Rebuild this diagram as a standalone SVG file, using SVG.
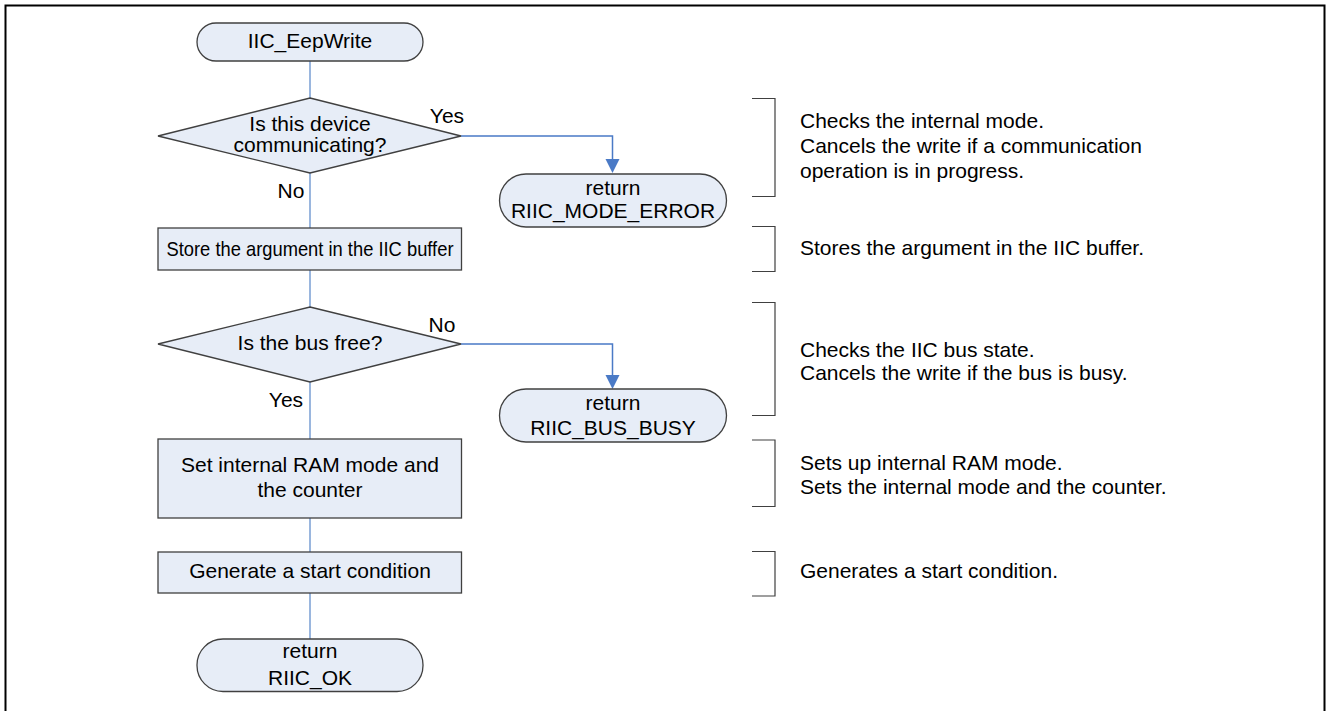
<svg xmlns="http://www.w3.org/2000/svg" width="1326" height="711" viewBox="0 0 1326 711">
<defs>
<marker id="arr" markerWidth="14" markerHeight="14" refX="7" refY="14" orient="auto-start-reverse" markerUnits="userSpaceOnUse" viewBox="0 0 14 14">
<path d="M0,0 L14,0 L7,14 Z" fill="#4A7AC6"/>
</marker>
<style>
.n{fill:#E7EDF7;stroke:#404040;stroke-width:1.3}
.t{font-family:"Liberation Sans",Arial,sans-serif;font-size:21px;fill:#000}
.c{text-anchor:middle}
.flow{stroke:#9AB6DE;stroke-width:2;fill:none}
.br{stroke:#404040;stroke-width:1.2;fill:none}
.ar{stroke:#4A7AC6;stroke-width:1.5;fill:none}
</style>
</defs>
<rect x="5.5" y="5.5" width="1319" height="720" fill="#fff" stroke="#000" stroke-width="2"/>
<g id="connectors">
<line class="flow" x1="310" y1="61" x2="310" y2="98"/>
<line class="flow" x1="310" y1="173" x2="310" y2="228"/>
<line class="flow" x1="310" y1="270" x2="310" y2="307"/>
<line class="flow" x1="310" y1="382" x2="310" y2="439"/>
<line class="flow" x1="310" y1="518" x2="310" y2="552"/>
<line class="flow" x1="310" y1="593" x2="310" y2="639"/>
<path class="ar" d="M461,136 H612.5 V159" />
<path d="M605.5,159 L619.5,159 L612.5,173 Z" fill="#4A7AC6"/>
<path class="ar" d="M461,344 H612.5 V375" />
<path d="M605.5,375 L619.5,375 L612.5,389 Z" fill="#4A7AC6"/>
<text class="t c" x="447" y="123">Yes</text>
<text class="t c" x="291" y="198">No</text>
<text class="t c" x="442" y="332">No</text>
<text class="t c" x="286" y="407">Yes</text>
</g>
<g id="start">
<rect class="n" x="197" y="23" width="226" height="38" rx="19"/>
<text class="t c" x="310" y="48">IIC_EepWrite</text>
</g>
<g id="dec1">
<polygon class="n" points="310,98 461,136 310,173 158,136"/>
<text class="t c" x="310" y="131">Is this device</text>
<text class="t c" x="310" y="152">communicating?</text>
</g>
<g id="ret1">
<rect class="n" x="499.5" y="174" width="227" height="53" rx="26.5"/>
<text class="t c" x="613" y="195">return</text>
<text class="t c" x="613" y="218">RIIC_MODE_ERROR</text>
</g>
<g id="store">
<rect class="n" x="158" y="228" width="303.5" height="42"/>
<text class="t c" x="310" y="256" textLength="287" lengthAdjust="spacingAndGlyphs">Store the argument in the IIC buffer</text>
</g>
<g id="dec2">
<polygon class="n" points="310,307 461,344 310,382 158,344"/>
<text class="t c" x="310" y="350">Is the bus free?</text>
</g>
<g id="ret2">
<rect class="n" x="499.5" y="389" width="227" height="53" rx="26.5"/>
<text class="t c" x="613" y="410">return</text>
<text class="t c" x="613" y="435">RIIC_BUS_BUSY</text>
</g>
<g id="setram">
<rect class="n" x="158" y="439" width="303.5" height="79"/>
<text class="t c" x="310" y="472">Set internal RAM mode and</text>
<text class="t c" x="310" y="497">the counter</text>
</g>
<g id="gen">
<rect class="n" x="158" y="552" width="303.5" height="41"/>
<text class="t c" x="310" y="578">Generate a start condition</text>
</g>
<g id="end">
<rect class="n" x="197" y="639" width="226" height="52.5" rx="26"/>
<text class="t c" x="310" y="658">return</text>
<text class="t c" x="310" y="685">RIIC_OK</text>
</g>
<g id="notes">
<path class="br" d="M752,98.5 H775 V196.5 H752"/>
<text class="t" x="800" y="128">Checks the internal mode.</text>
<text class="t" x="800" y="153">Cancels the write if a communication</text>
<text class="t" x="800" y="178">operation is in progress.</text>
<path class="br" d="M752,226.5 H775 V271.5 H752"/>
<text class="t" x="800" y="255">Stores the argument in the IIC buffer.</text>
<path class="br" d="M752,302.5 H775 V415.5 H752"/>
<text class="t" x="800" y="357">Checks the IIC bus state.</text>
<text class="t" x="800" y="380">Cancels the write if the bus is busy.</text>
<path class="br" d="M752,440 H775 V506.5 H752"/>
<text class="t" x="800" y="470">Sets up internal RAM mode.</text>
<text class="t" x="800" y="494">Sets the internal mode and the counter.</text>
<path class="br" d="M752,551.5 H775 V596 H752"/>
<text class="t" x="800" y="578">Generates a start condition.</text>
</g>
</svg>
